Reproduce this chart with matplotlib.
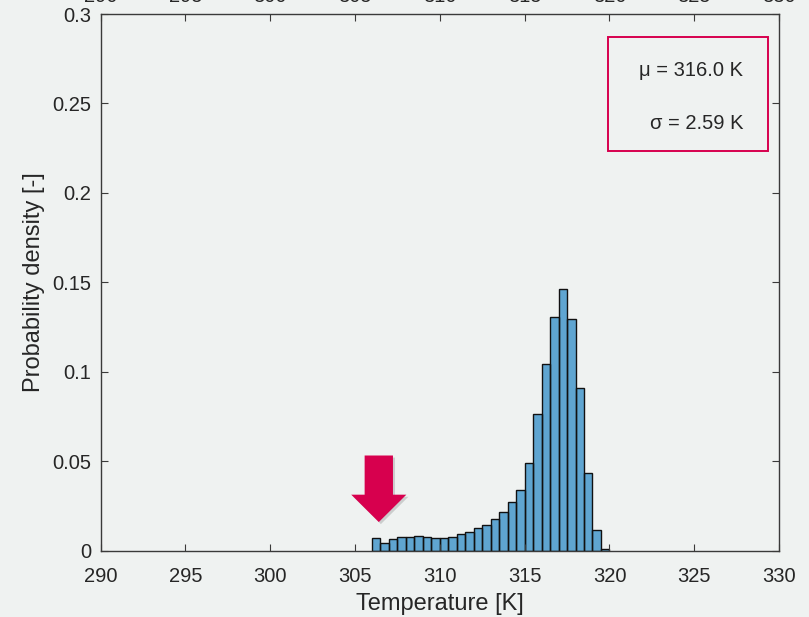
import numpy as np
import matplotlib.pyplot as plt
from matplotlib.patches import FancyArrow, Rectangle
from matplotlib.ticker import FixedLocator, FuncFormatter
import matplotlib.patheffects as pe

plt.rcParams['font.family'] = ['Liberation Sans', 'DejaVu Sans']

# Histogram of temperature (probability density per 0.5 K bin)
bin_start = 306.0
bin_width = 0.5
density = [0.0069, 0.0041, 0.0064, 0.0075, 0.0075, 0.0084, 0.0078, 0.0073,
           0.0069, 0.0076, 0.0093, 0.0106, 0.0125, 0.0145, 0.0177, 0.0214,
           0.0270, 0.0341, 0.0490, 0.0764, 0.1043, 0.1307, 0.1462, 0.1294,
           0.0912, 0.0434, 0.0117, 0.0010]
mu = 316.0
sigma = 2.59

x_ticks = [290, 295, 300, 305, 310, 315, 320, 325, 330]
y_ticks = [0, 0.05, 0.1, 0.15, 0.2, 0.25, 0.3]

bg = '#eff2f1'
ink = '#262626'
accent = '#d7004e'

left_edges = bin_start + bin_width * np.arange(len(density))

fig = plt.figure(figsize=(8.09, 6.17), dpi=100, facecolor=bg)
ax = fig.add_axes([0.1244, 0.1075, 0.8386, 0.8698], facecolor=bg)

ax.bar(left_edges, density, width=bin_width, align='edge',
       facecolor='#0072BD', alpha=0.6, edgecolor='none')
ax.bar(left_edges, density, width=bin_width, align='edge',
       facecolor='none', edgecolor='#111111', linewidth=1.0)

ax.set_xlim(290, 330)
ax.set_ylim(0, 0.3)
ax.xaxis.set_major_locator(FixedLocator(x_ticks))
ax.yaxis.set_major_locator(FixedLocator(y_ticks))
ax.yaxis.set_major_formatter(FuncFormatter(lambda v, p: f'{v:g}'))

for s in ax.spines.values():
    s.set_color('#3a3a3a')
    s.set_linewidth(1.0)

ax.tick_params(axis='both', direction='in', length=5, width=0.8,
               color='#3a3a3a', labelsize=14.5, labelcolor=ink,
               top=True, right=True)
ax.tick_params(axis='x', pad=12)
ax.tick_params(axis='y', pad=7)

# top tick labels sit mostly outside the figure
top = ax.secondary_xaxis('top')
top.xaxis.set_major_locator(FixedLocator(x_ticks))
top.tick_params(direction='in', length=0, labelsize=14.5, labelcolor=ink, pad=5.5)
top.spines['top'].set_visible(False)

ax.set_xlabel('Temperature [K]', fontsize=17, color=ink, labelpad=5)
ax.set_ylabel('Probability density [-]', fontsize=17, color=ink, labelpad=5)

# statistics box
ax.add_patch(Rectangle((0.7484, 0.7453), 0.2349, 0.2113, transform=ax.transAxes,
                       facecolor=bg, edgecolor=accent, linewidth=1.4, zorder=5))
ax.text(0.9469, 0.8944, f'\u03bc = {mu:.1f} K', transform=ax.transAxes,
        ha='right', va='center', fontsize=14.5, color=ink, zorder=6)
ax.text(0.9469, 0.7964, f'\u03c3 = {sigma:.2f} K', transform=ax.transAxes,
        ha='right', va='center', fontsize=14.5, color=ink, zorder=6)

# arrow pointing at the low-temperature tail
arrow = FancyArrow(306.4, 0.0532, 0, -0.0372, width=1.67, head_width=3.25,
                   head_length=0.0153, length_includes_head=True,
                   facecolor=accent, edgecolor='none', zorder=6)
arrow.set_path_effects([pe.withSimplePatchShadow(offset=(1.5, -1.5),
                                                 shadow_rgbFace='#000000',
                                                 alpha=0.15)])
ax.add_patch(arrow)

fig.savefig('out.png', dpi=100, facecolor=bg)
